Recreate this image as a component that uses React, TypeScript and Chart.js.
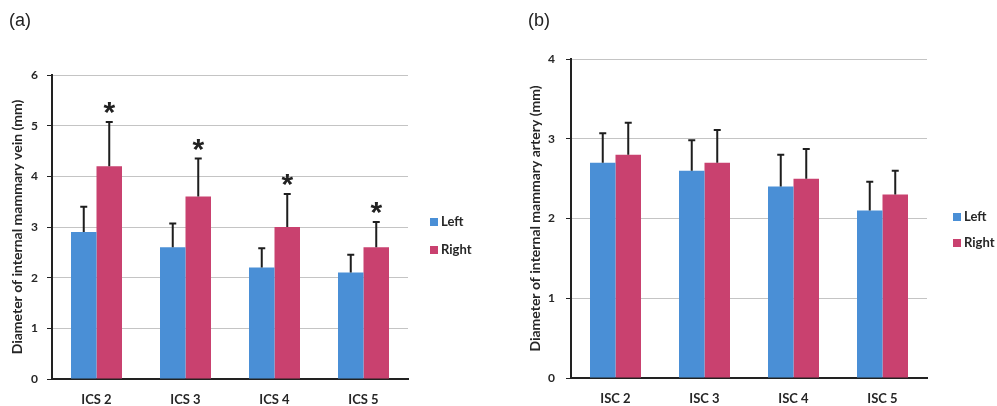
import React, { useEffect, useRef } from "react";
import { Chart, registerables } from "chart.js";
Chart.register(...registerables);

// ---- data ----
const seriesNames = ["Left", "Right"];
const catsA = ["ICS 2", "ICS 3", "ICS 4", "ICS 5"];
const leftA = [2.9, 2.6, 2.2, 2.1];
const rightA = [4.2, 3.6, 3.0, 2.6];
const leftSdA = [0.5, 0.47, 0.38, 0.35];
const rightSdA = [0.87, 0.75, 0.65, 0.5];
const starsRightA = [true, true, true, true];
const ticksA = [0, 1, 2, 3, 4, 5, 6];

const catsB = ["ISC 2", "ISC 3", "ISC 4", "ISC 5"];
const leftB = [2.7, 2.6, 2.4, 2.1];
const rightB = [2.8, 2.7, 2.5, 2.3];
const leftSdB = [0.37, 0.38, 0.4, 0.36];
const rightSdB = [0.4, 0.41, 0.37, 0.3];
const ticksB = [0, 1, 2, 3, 4];

const BLUE = "#4a8fd6";
const PINK = "#c9416f";
const FONT = "Lato";
const TEXT = "#262626";

const errorBarPlugin = {
  id: "errorBars",
  afterDatasetsDraw(chart: any) {
    const ctx = chart.ctx;
    const y = chart.scales.y;
    chart.data.datasets.forEach((ds: any, i: number) => {
      const meta = chart.getDatasetMeta(i);
      meta.data.forEach((bar: any, j: number) => {
        const top = y.getPixelForValue(ds.data[j] + ds.errors[j]);
        ctx.save();
        ctx.strokeStyle = "#1e1e1e";
        ctx.lineWidth = 2;
        ctx.beginPath();
        ctx.moveTo(bar.x, bar.y);
        ctx.lineTo(bar.x, top);
        ctx.moveTo(bar.x - 3.5, top);
        ctx.lineTo(bar.x + 3.5, top);
        ctx.stroke();
        if (ds.stars && ds.stars[j]) {
          ctx.fillStyle = "#222";
          ctx.font = "bold 30px 'Liberation Sans'";
          ctx.textAlign = "center";
          ctx.textBaseline = "middle";
          ctx.fillText("*", bar.x, top - 8);
        }
        ctx.restore();
      });
    });
  },
};

const sideLegendPlugin = {
  id: "sideLegend",
  afterDraw(chart: any, _args: any, opts: any) {
    const ctx = chart.ctx;
    ctx.save();
    chart.data.datasets.forEach((ds: any, i: number) => {
      const cy = opts.y + i * opts.gap;
      ctx.fillStyle = ds.backgroundColor;
      ctx.fillRect(opts.x, cy - 4, 8, 8);
      ctx.fillStyle = TEXT;
      ctx.font = `bold 13px ${FONT}`;
      ctx.textAlign = "left";
      ctx.textBaseline = "middle";
      ctx.fillText(ds.label, opts.x + 11, cy);
    });
    ctx.restore();
  },
};

function makeConfig(
  cats: string[],
  left: number[],
  right: number[],
  leftSd: number[],
  rightSd: number[],
  stars: boolean[] | null,
  ticks: number[],
  title: string,
  padding: any,
  yWidth: number,
  xHeight: number,
  tickPad: number,
  legend: any
) {
  return {
    type: "bar",
    data: {
      labels: cats,
      datasets: [
        { label: seriesNames[0], data: left, backgroundColor: BLUE, errors: leftSd },
        { label: seriesNames[1], data: right, backgroundColor: PINK, errors: rightSd, stars },
      ],
    },
    options: {
      responsive: false,
      animation: false,
      layout: { padding },
      datasets: { bar: { categoryPercentage: 0.573, barPercentage: 1 } },
      plugins: {
        legend: { display: false },
        tooltip: { enabled: false },
        sideLegend: legend,
      },
      scales: {
        x: {
          grid: { display: false },
          border: { color: "#222", width: 2 },
          ticks: { color: TEXT, font: { family: FONT, weight: "bold", size: 13 }, padding: 5 },
          afterFit: (s: any) => {
            s.height = xHeight;
          },
        },
        y: {
          min: ticks[0],
          max: ticks[ticks.length - 1],
          ticks: { stepSize: 1, color: TEXT, font: { family: FONT, weight: "bold", size: 12 }, padding: tickPad },
          grid: { color: "#c4c4c4", lineWidth: 1, tickLength: 5, tickColor: "#222" },
          border: { color: "#222", width: 2 },
          title: {
            display: true,
            text: title,
            color: TEXT,
            font: { family: FONT, weight: "bold", size: 14 },
            padding: { top: 9, bottom: 0 },
          },
          afterFit: (s: any) => {
            s.width = yWidth;
          },
        },
      },
    },
    plugins: [errorBarPlugin, sideLegendPlugin],
  };
}

export default function App() {
  const refA = useRef<HTMLCanvasElement>(null);
  const refB = useRef<HTMLCanvasElement>(null);
  useEffect(() => {
    const a = new Chart(
      refA.current as any,
      makeConfig(
        catsA, leftA, rightA, leftSdA, rightSdA, starsRightA, ticksA,
        "Diameter of internal mammary vein (mm)",
        { left: 0, right: 92, top: 75, bottom: 0 },
        52, 27, 9,
        { x: 430, y: 222, gap: 28 }
      ) as any
    );
    const b = new Chart(
      refB.current as any,
      makeConfig(
        catsB, leftB, rightB, leftSdB, rightSdB, null, ticksB,
        "Diameter of internal mammary artery (mm)",
        { left: 18, right: 70, top: 59, bottom: 0 },
        53, 28, 11,
        { x: 453, y: 217, gap: 26 }
      ) as any
    );
    return () => {
      a.destroy();
      b.destroy();
    };
  }, []);
  const labelStyle: React.CSSProperties = {
    position: "absolute",
    fontFamily: "'Liberation Sans', Arial, sans-serif",
    fontSize: 18,
    color: "#222",
    lineHeight: "20px",
  };
  return (
    <div style={{ position: "absolute", left: 0, top: 0, width: 997, height: 406, background: "#fff" }}>
      <canvas ref={refA} width={500} height={406} style={{ position: "absolute", left: 0, top: 0, width: 500, height: 406 }} />
      <canvas ref={refB} width={497} height={406} style={{ position: "absolute", left: 500, top: 0, width: 497, height: 406 }} />
      <div style={{ ...labelStyle, left: 9, top: 10 }}>(a)</div>
      <div style={{ ...labelStyle, left: 528, top: 10 }}>(b)</div>
    </div>
  );
}
